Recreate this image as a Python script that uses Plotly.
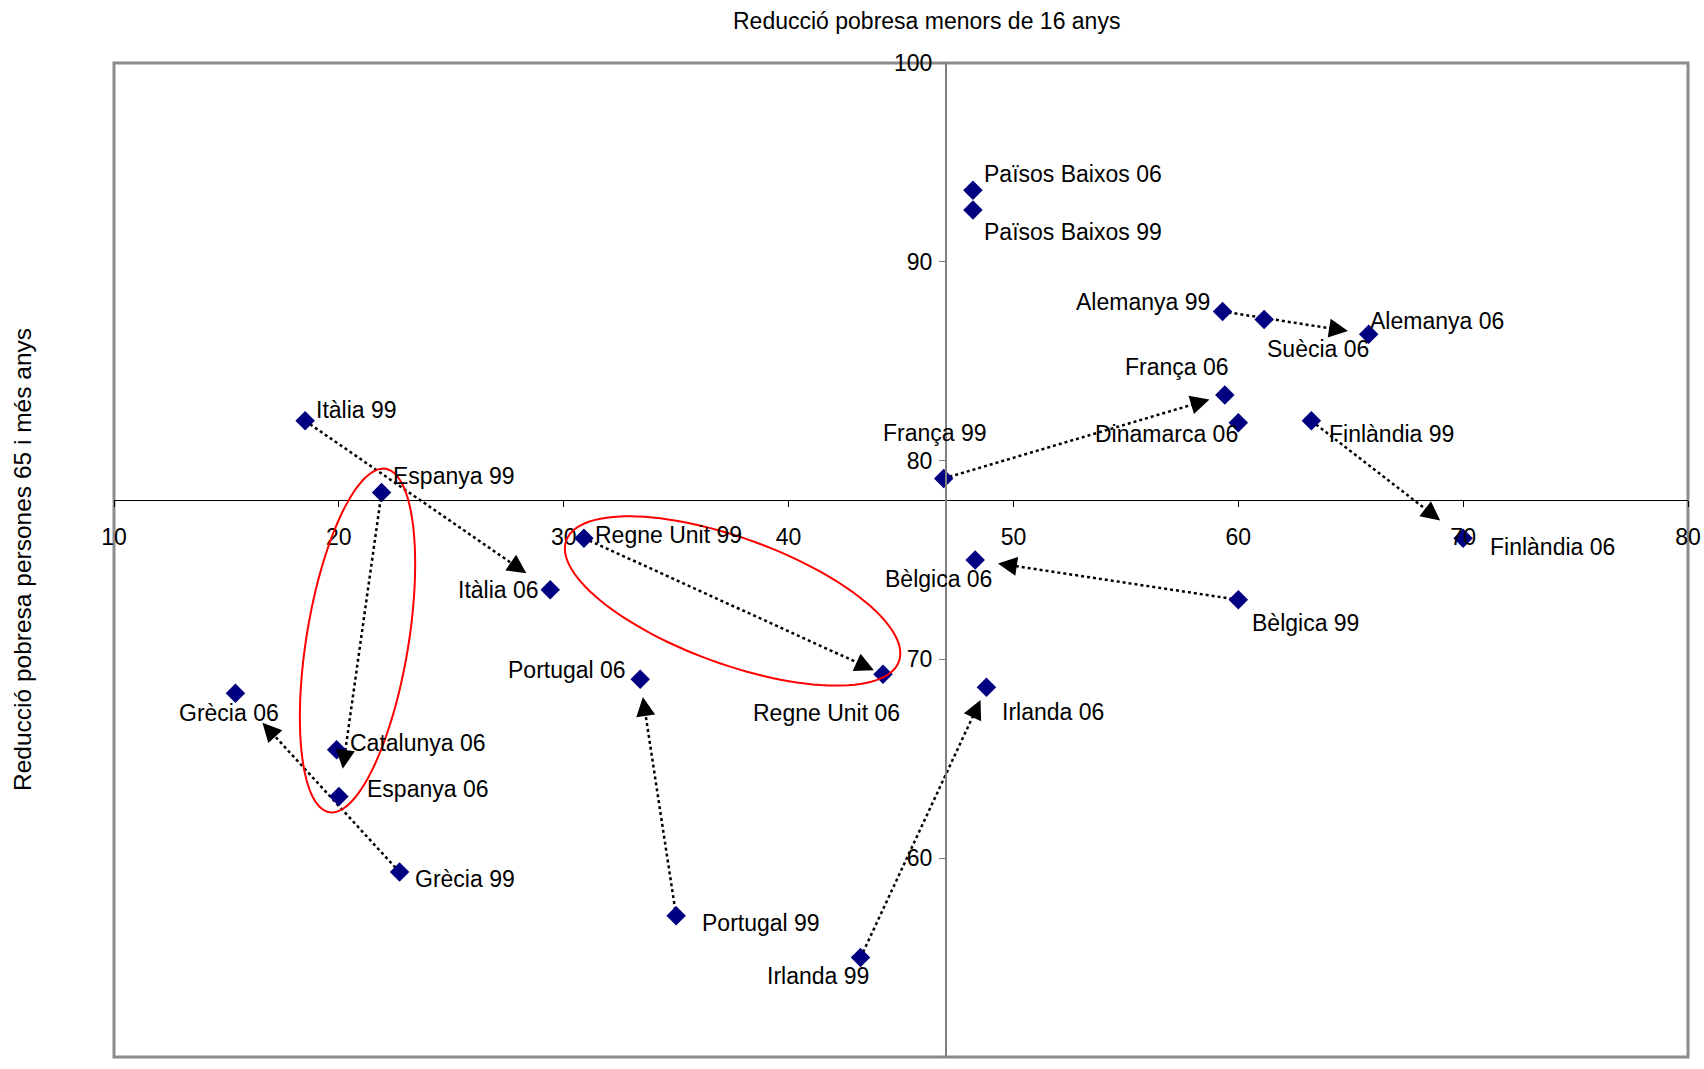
import numpy as np
import plotly.graph_objects as go

# ---------------- data ----------------
names = ["Països Baixos 06", "Països Baixos 99", "Alemanya 99", "Suècia 06", "Alemanya 06",
         "França 06", "Dinamarca 06", "Finlàndia 99", "França 99", "Finlàndia 06",
         "Bèlgica 06", "Bèlgica 99", "Irlanda 06", "Irlanda 99", "Regne Unit 99",
         "Regne Unit 06", "Itàlia 99", "Espanya 99", "Itàlia 06", "Portugal 06",
         "Portugal 99", "Grècia 06", "Catalunya 06", "Espanya 06", "Grècia 99"]
reduccio_menors16 = [48.2, 48.2, 59.3, 61.15, 65.8,
                     59.4, 60.0, 63.25, 46.9, 70.0,
                     48.3, 60.0, 48.8, 43.2, 30.9,
                     44.2, 18.5, 21.9, 29.4, 33.4,
                     35.0, 15.4, 19.9, 20.0, 22.7]
reduccio_65mes = [93.6, 92.6, 87.5, 87.1, 86.35,
                  83.3, 81.9, 82.0, 79.1, 76.1,
                  75.0, 73.0, 68.6, 55.0, 76.1,
                  69.25, 82.0, 78.4, 73.5, 69.0,
                  57.1, 68.3, 65.45, 63.1, 59.3]
arrows = [("Itàlia 99", "Itàlia 06"), ("Espanya 99", "Espanya 06"), ("Grècia 99", "Grècia 06"),
          ("Portugal 99", "Portugal 06"), ("Irlanda 99", "Irlanda 06"),
          ("Regne Unit 99", "Regne Unit 06"), ("Bèlgica 99", "Bèlgica 06"),
          ("Finlàndia 99", "Finlàndia 06"), ("França 99", "França 06"),
          ("Alemanya 99", "Alemanya 06")]
x_ticks = [10, 20, 30, 40, 50, 60, 70, 80]
y_ticks = [50, 60, 70, 80, 90, 100]
x_title = "Reducció pobresa menors de 16 anys"
y_title = "Reducció pobresa persones 65 i més anys"
x_cross = 47   # where the vertical axis crosses
y_cross = 78   # where the horizontal axis crosses

# ---------------- styles / layout ----------------
W, H = 1704, 1069
ML, MR, MT, MB = 114, 16, 63, 12
XR = (10, 80)
YR = (50, 100)
FONT = "Liberation Sans, Arial, sans-serif"
FS = 23

# label placement: anchor, dx (px, right), dy (px, down)
label_pos = {
    "Itàlia 99": ("left", 9, -11), "Espanya 99": ("left", 9, -16),
    "Itàlia 06": ("right", -9, 0), "Regne Unit 99": ("left", 9, -3),
    "Regne Unit 06": ("right", 19, 39), "Portugal 06": ("right", -12, -9),
    "Portugal 99": ("left", 24, 7), "Irlanda 99": ("right", 10, 18),
    "Irlanda 06": ("left", 14, 25), "Grècia 06": ("center", -6, 20),
    "Catalunya 06": ("left", 11, -7), "Espanya 06": ("left", 26, -8),
    "Grècia 99": ("left", 13, 7), "Països Baixos 06": ("left", 9, -16),
    "Països Baixos 99": ("left", 9, 22), "Alemanya 99": ("right", -11, -10),
    "Suècia 06": ("left", 1, 30), "Alemanya 06": ("left", -1, -13),
    "França 06": ("right", 6, -28), "Dinamarca 06": ("right", 2, 11),
    "França 99": ("right", 45, -45), "Finlàndia 99": ("left", 16, 13),
    "Finlàndia 06": ("left", 25, 9), "Bèlgica 06": ("right", 19, 19),
    "Bèlgica 99": ("left", 12, 23),
}
arrow_gap = [29, 28, 40, 18, 14, 10, 23, 29, 16, 21]
# ellipses: centre (data), semi-axes (px), rotation (deg, clockwise on screen)
ellipses = [((20.83, 70.95), 174, 51, 99.3), ((37.51, 72.94), 177, 63, 20.0)]

PW = W - ML - MR
PH = H - MT - MB


def to_px(x, y):
    return (ML + (x - XR[0]) / (XR[1] - XR[0]) * PW,
            MT + (YR[1] - y) / (YR[1] - YR[0]) * PH)


def to_data(px, py):
    return (XR[0] + (px - ML) / PW * (XR[1] - XR[0]),
            YR[1] - (py - MT) / PH * (YR[1] - YR[0]))


pts = {n: (x, y) for n, x, y in zip(names, reduccio_menors16, reduccio_65mes)}

fig = go.Figure()
annotations = []

# arrows: dotted shafts (traces) + filled triangular heads (annotations)
for (a, b), gap in zip(arrows, arrow_gap):
    p0 = np.array(to_px(*pts[a]))
    p1 = np.array(to_px(*pts[b]))
    d = (p1 - p0) / np.linalg.norm(p1 - p0)
    tip = p1 - gap * d
    shaft_end = tip - 10 * d
    sx, sy = to_data(*p0)
    ex, ey = to_data(*shaft_end)
    fig.add_trace(go.Scatter(
        x=[sx, ex], y=[sy, ey], mode="lines",
        line=dict(color="black", width=2.5, dash="dot"),
        hoverinfo="skip", showlegend=False, cliponaxis=False))
    tx, ty = to_data(*tip)
    annotations.append(dict(x=tx, y=ty, xref="x", yref="y", text="", showarrow=True,
                            ax=-11 * d[0], ay=-11 * d[1], axref="pixel", ayref="pixel",
                            arrowhead=2, arrowsize=1.9, arrowwidth=2, arrowcolor="black",
                            standoff=0, startstandoff=0))

# points
fig.add_trace(go.Scatter(
    x=reduccio_menors16, y=reduccio_65mes, mode="markers",
    marker=dict(symbol="diamond", size=15, color="#000080", opacity=1, line=dict(width=0)),
    text=names, hoverinfo="text", showlegend=False, cliponaxis=False))

for n in names:
    anc, dx, dy = label_pos[n]
    x, y = pts[n]
    annotations.append(dict(x=x, y=y, xref="x", yref="y", text=n, showarrow=False,
                            xanchor=anc, yanchor="middle", xshift=dx, yshift=-dy,
                            font=dict(family=FONT, size=FS, color="black")))

annotations.append(dict(x=(927 - ML) / PW, y=1 + (MT - 21) / PH, xref="paper", yref="paper",
                        text=x_title, showarrow=False, xanchor="center", yanchor="middle",
                        font=dict(family=FONT, size=FS, color="black")))
annotations.append(dict(x=(22 - ML) / PW, y=0.5, xref="paper", yref="paper",
                        text=y_title, showarrow=False, textangle=-90,
                        xanchor="center", yanchor="middle",
                        font=dict(family=FONT, size=24.5, color="black")))

shapes = [dict(type="rect", xref="paper", yref="paper", x0=0, y0=0, x1=1, y1=1,
               line=dict(color="#8c8c8c", width=3), layer="below")]
t = np.linspace(0, 2 * np.pi, 121)
for (cx, cy), a, b, rot in ellipses:
    cpx, cpy = to_px(cx, cy)
    r = np.deg2rad(rot)
    ex_ = cpx + a * np.cos(t) * np.cos(r) - b * np.sin(t) * np.sin(r)
    ey_ = cpy + a * np.cos(t) * np.sin(r) + b * np.sin(t) * np.cos(r)
    dpts = [to_data(px, py) for px, py in zip(ex_, ey_)]
    path = "M " + " L ".join(f"{px:.4f},{py:.4f}" for px, py in dpts) + " Z"
    shapes.append(dict(type="path", path=path, xref="x", yref="y",
                       line=dict(color="red", width=2), layer="above"))

fig.update_layout(
    width=W, height=H, autosize=False,
    margin=dict(l=ML, r=MR, t=MT, b=MB, pad=0, autoexpand=False),
    paper_bgcolor="white", plot_bgcolor="white",
    font=dict(family=FONT, size=FS, color="black"),
    showlegend=False,
    annotations=annotations, shapes=shapes,
    xaxis=dict(range=list(XR), tickvals=x_ticks, anchor="free",
               position=(y_cross - YR[0]) / (YR[1] - YR[0]),
               showline=True, linecolor="black", linewidth=1,
               ticks="outside", ticklen=6, tickcolor="black", tickwidth=1,
               ticklabelstandoff=10, automargin=False,
               showgrid=False, zeroline=False,
               tickfont=dict(family=FONT, size=FS, color="black")),
    yaxis=dict(range=list(YR), tickvals=y_ticks, anchor="free",
               position=(x_cross - XR[0]) / (XR[1] - XR[0]),
               showline=True, linecolor="#808080", linewidth=2,
               ticks="outside", ticklen=6, tickcolor="#808080", tickwidth=1,
               ticklabelstandoff=2, automargin=False,
               showgrid=False, zeroline=False,
               tickfont=dict(family=FONT, size=FS, color="black")),
)

fig.write_html("out.html", config={"displayModeBar": False},
               post_script="document.body.style.margin='0';")
